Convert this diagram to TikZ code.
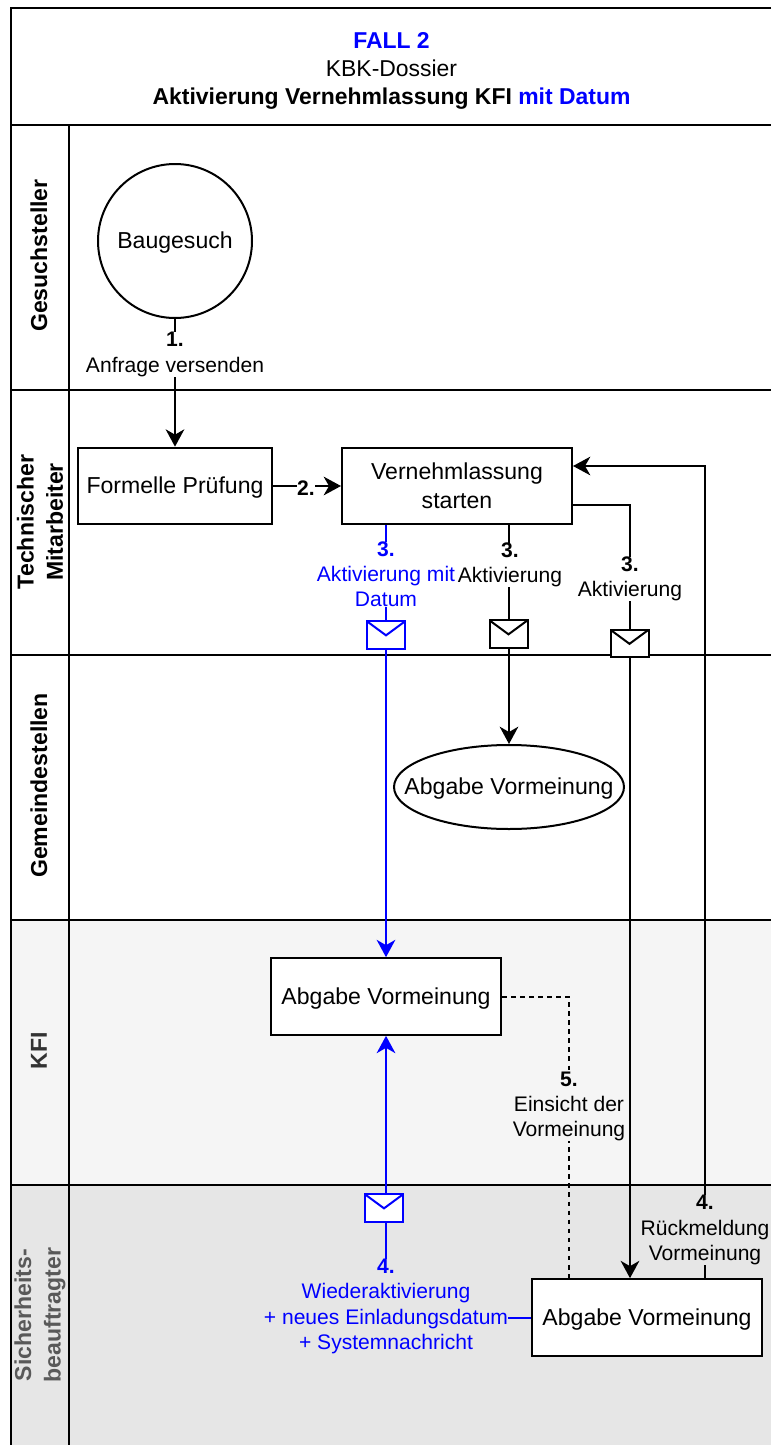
\documentclass[tikz,border=0pt]{standalone}
\usepackage{fontspec}
\setmainfont{Liberation Sans}
\usetikzlibrary{arrows.meta,backgrounds,shapes.geometric}
\pgfdeclarelayer{edges}
\pgfsetlayers{background,edges,main}
\definecolor{fb}{RGB}{0,0,255}
\definecolor{kfibg}{RGB}{245,245,245}
\definecolor{sbbg}{RGB}{230,230,230}
\tikzset{
  x=0.75pt,y=-0.75pt,
  lane/.style={draw=black,line width=1.5pt},
  low/.style={text height=15.3pt,text depth=3.6pt},
  proc/.style={draw=black,fill=white,line width=1.5pt,minimum width=172.5pt,minimum height=57.5pt,inner sep=0pt,align=center,font=\fontsize{17.3}{21.7}\selectfont},
  lbl/.style={inner sep=0pt,align=center,font=\fontsize{15.8}{18.9}\selectfont},
  hdr/.style={rotate=90,inner sep=0pt,align=center,font=\fontsize{17.3}{22}\selectfont\bfseries},
  env/.style={draw=#1,fill=white,line width=1.5pt,minimum width=28.5pt,minimum height=20.5pt,inner sep=0pt,
    path picture={\draw[#1,line width=1.5pt] (path picture bounding box.north west) -- ([yshift=-10.5pt]path picture bounding box.north) -- (path picture bounding box.north east);}},
  con/.style={line width=1.5pt,draw=black},
  arr/.style={con,-{Stealth[length=13pt,width=14pt,inset=4pt]}},
  bcon/.style={line width=1.5pt,draw=fb},
  barr/.style={bcon,-{Stealth[length=13pt,width=14pt,inset=4pt]}},
}
\begin{document}
\begin{tikzpicture}
\useasboundingbox (0,0) rectangle (771,1445);
\begin{pgfonlayer}{background}
  \fill[white] (0,0) rectangle (771,1445);
  \fill[kfibg] (11,920) rectangle (771,1185);
  \fill[sbbg] (11,1185) rectangle (771,1445);
  \draw[lane] (771,8) -- (11,8) -- (11,1445);
  \draw[lane] (69,125) -- (69,1445);
  \draw[lane] (11,125) -- (771,125);
  \draw[lane] (11,390) -- (771,390);
  \draw[lane] (11,655) -- (771,655);
  \draw[lane] (11,920) -- (771,920);
  \draw[lane] (11,1185) -- (771,1185);
\end{pgfonlayer}

\node[inner sep=0pt,align=center,font=\fontsize{17.2}{21}\selectfont] (title) at (391.5,70.5)
  {{\bfseries\color{fb}FALL 2}\\KBK-Dossier\\{\bfseries Aktivierung Vernehmlassung KFI {\color{fb}mit Datum}}};

\node[hdr] (h1) at (39,255.5) {Gesuchsteller};
\node[hdr] (h2) at (40,522) {Technischer\\Mitarbeiter};
\node[hdr] (h3) at (39,785.5) {Gemeindestellen};
\node[hdr,text=black!80] (h4) at (39,1051) {KFI};
\node[hdr,text=black!65] (h5) at (40,1315) {Sicherheits-\\beauftragter};

\node[circle,draw=black,fill=white,line width=1.5pt,minimum size=115.5pt,inner sep=0pt,low,font=\fontsize{17.3}{21.7}\selectfont] (baug) at (175,241) {Baugesuch};
\node[proc,low,minimum width=145.5pt] (form) at (175,486) {Formelle Prüfung};
\node[proc] (vern) at (457,486) {Vernehmlassung\\starten};
\node[ellipse,draw=black,fill=white,line width=1.5pt,minimum width=172.5pt,minimum height=63pt,inner xsep=-20pt,inner ysep=0pt,low,font=\fontsize{17.3}{21.7}\selectfont] (gem) at (509,787) {Abgabe Vormeinung};
\node[proc,low] (kfi) at (386,996.5) {Abgabe Vormeinung};
\node[proc,low] (sb) at (647,1317.5) {Abgabe Vormeinung};

\node[env=fb] (e1) at (386,635) {};
\node[env=black] (e2) at (508.5,634) {};
\node[env=black] (e3) at (629.5,643.5) {};
\node[env=fb] (e4) at (384,1208) {};

\node[lbl,fill=white] (l1) at (175,354.5) {{\bfseries 1.}\\Anfrage versenden};
\node[lbl,fill=white] (l2) at (306,488) {\bfseries 2.};
\node[lbl,fill=white,text=fb] (l3a) at (386,574.5) {{\bfseries 3.}\\Aktivierung mit\\Datum};
\node[lbl,fill=white] (l3b) at (510,565) {{\bfseries 3.}\\Aktivierung};
\node[lbl,fill=white] (l3c) at (630,579) {{\bfseries 3.}\\Aktivierung};
\node[lbl,fill=kfibg] (l5) at (569,1106.5) {{\bfseries 5.}\\Einsicht der\\Vormeinung};
\node[lbl,fill=sbbg] (l4r) at (705,1230) {{\bfseries 4.}\\Rückmeldung\\Vormeinung};
\node[lbl,fill=sbbg,text=fb] (l4b) at (386,1306.5) {{\bfseries 4.}\\Wiederaktivierung\\+ neues Einladungsdatum\\+ Systemnachricht};

\begin{pgfonlayer}{edges}
  \draw[arr] (baug.south) -- (form.north);
  \draw[arr] (form.east) -- (vern.west);
  \draw[barr] (vern.south -| kfi.north) -- (kfi.north);
  \draw[arr] (vern.south -| gem.north) -- (gem.north);
  \draw[arr] ([yshift=-14.5pt]vern.east) -| ([xshift=-12.75pt]sb.north);
  \draw[arr] ([xshift=43.5pt]sb.north) |- ([yshift=15pt]vern.east);
  \draw[barr] (sb.west) -| (kfi.south);
  \draw[con,dash pattern=on 3.4pt off 3.4pt] (kfi.east) -| ([xshift=-58.5pt]sb.north);
\end{pgfonlayer}
\end{tikzpicture}
\end{document}
